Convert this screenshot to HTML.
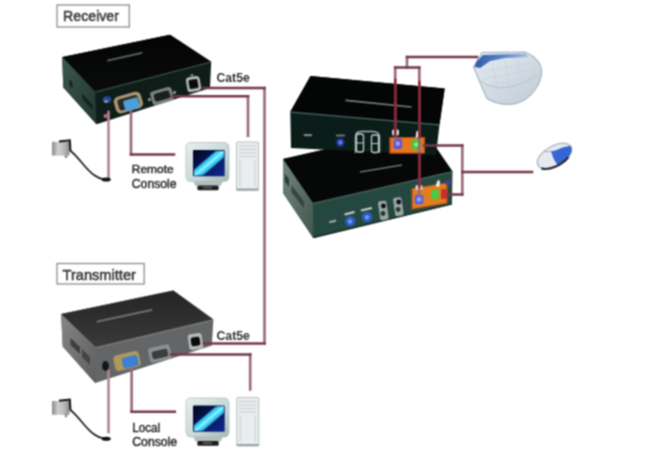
<!DOCTYPE html>
<html><head><meta charset="utf-8"><style>
html,body{margin:0;padding:0;background:#fff;}
body{width:650px;height:462px;overflow:hidden;position:relative;}
svg{position:absolute;left:0;top:0;display:block;}
text{font-family:"Liberation Sans",sans-serif;}
</style></head><body>
<svg width="650" height="462" viewBox="0 0 650 462">
<defs>
<filter id="soft" x="0" y="0" width="100%" height="100%" filterUnits="userSpaceOnUse" color-interpolation-filters="sRGB"><feConvolveMatrix order="3" kernelMatrix="1 2 1 2 4 2 1 2 1" divisor="16" edgeMode="duplicate" preserveAlpha="true"/></filter>
<linearGradient id="txTop" x1="0" y1="0" x2="0" y2="1"><stop offset="0" stop-color="#242424"/><stop offset="1" stop-color="#3a3a3a"/></linearGradient>
<linearGradient id="rxTop" x1="0" y1="0" x2="0" y2="1"><stop offset="0" stop-color="#030303"/><stop offset="1" stop-color="#0a0c0c"/></linearGradient>
<linearGradient id="kbBlue" x1="0" y1="0" x2="1" y2="0"><stop offset="0" stop-color="#2f5aa8"/><stop offset="0.55" stop-color="#5d86c8"/><stop offset="1" stop-color="#a9c2e4"/></linearGradient>
<linearGradient id="kb" x1="0" y1="0" x2="1" y2="1"><stop offset="0" stop-color="#e6ecf1"/><stop offset="1" stop-color="#bfcbd6"/></linearGradient>
<linearGradient id="pa" x1="0" y1="0" x2="1" y2="0"><stop offset="0" stop-color="#8a8a8a"/><stop offset="0.35" stop-color="#cfcfcf"/><stop offset="0.7" stop-color="#b8b8b8"/><stop offset="1" stop-color="#8c8c8c"/></linearGradient>
<linearGradient id="scr" x1="0" y1="0" x2="1" y2="1"><stop offset="0" stop-color="#020620"/><stop offset="1" stop-color="#0c2a90"/></linearGradient>
<linearGradient id="mon" x1="0" y1="0" x2="1" y2="1"><stop offset="0" stop-color="#e6efef"/><stop offset="0.6" stop-color="#c9d6d6"/><stop offset="1" stop-color="#a6b6b6"/></linearGradient>
<clipPath id="scrClip"><rect x="194" y="151" width="29.7" height="24.3"/></clipPath>
<clipPath id="mouseClip"><ellipse cx="554.5" cy="156" rx="19" ry="10"/></clipPath>
<linearGradient id="rxLeft" x1="0" y1="0" x2="1" y2="1"><stop offset="0" stop-color="#3a584c"/><stop offset="1" stop-color="#22362f"/></linearGradient>
<linearGradient id="txLeft" x1="0" y1="0" x2="1" y2="1"><stop offset="0" stop-color="#858585"/><stop offset="1" stop-color="#5e5e5e"/></linearGradient>
<linearGradient id="kvmLeft" x1="0" y1="0" x2="1" y2="1"><stop offset="0" stop-color="#72867e"/><stop offset="1" stop-color="#42564e"/></linearGradient>
</defs>
<g filter="url(#soft)">
<rect width="650" height="462" fill="#fff"/>

<!-- ===== labels ===== -->
<rect x="57" y="5" width="72.3" height="22" fill="none" stroke="#8e8e8e" stroke-width="1.3"/>
<text x="63" y="20.9" font-size="15.5" fill="#3a3a3a" stroke="#3a3a3a" stroke-width="0.55" textLength="56" lengthAdjust="spacingAndGlyphs">Receiver</text>
<rect x="57" y="263.5" width="87.2" height="20.5" fill="none" stroke="#8e8e8e" stroke-width="1.3"/>
<text x="62.5" y="280.1" font-size="15.5" fill="#3a3a3a" stroke="#3a3a3a" stroke-width="0.55" textLength="73.4" lengthAdjust="spacingAndGlyphs">Transmitter</text>

<text x="216.5" y="81.7" font-size="12.8" font-weight="bold" fill="#333" textLength="33.2" lengthAdjust="spacingAndGlyphs">Cat5e</text>
<text x="216.5" y="339.8" font-size="12.8" font-weight="bold" fill="#333" textLength="33.4" lengthAdjust="spacingAndGlyphs">Cat5e</text>
<text x="131.8" y="173.4" font-size="11.6" fill="#2a2a2a" stroke="#2a2a2a" stroke-width="0.45" textLength="41.8" lengthAdjust="spacingAndGlyphs">Remote</text>
<text x="131.8" y="187.6" font-size="12" fill="#2a2a2a" stroke="#2a2a2a" stroke-width="0.45" textLength="44.8" lengthAdjust="spacingAndGlyphs">Console</text>
<text x="132.3" y="431.8" font-size="12" fill="#2a2a2a" stroke="#2a2a2a" stroke-width="0.45" textLength="27.8" lengthAdjust="spacingAndGlyphs">Local</text>
<text x="132.3" y="445.8" font-size="12" fill="#2a2a2a" stroke="#2a2a2a" stroke-width="0.45" textLength="44.8" lengthAdjust="spacingAndGlyphs">Console</text>

<!-- ===== Receiver box ===== -->
<polygon points="62.3,57 170,34.7 211.2,61.8 210,88 96.5,124.3 63.2,87.3" fill="#0f1d19"/>
<polygon points="62.6,57 170,34.7 211.2,61.8 95,91.6" fill="url(#rxTop)"/>
<polygon points="62.3,57 95,91.6 96.5,124.3 63.2,87.3" fill="url(#rxLeft)"/>
<path d="M69.5 79 L72.5 82.5 L72.5 89 L69.5 85.5 Z M82 93.5 L93 105 L93 109 L82 97.5 Z" fill="#16241f"/>
<path d="M83 99 L92 108.5" stroke="#16241f" stroke-width="1.2"/>
<path d="M95.3,92 L211,62" stroke="#3f5a52" stroke-width="1.2" fill="none"/>
<path d="M108,60.5 L141.5,53" stroke="#555a5a" stroke-width="2.2" stroke-linecap="round" fill="none"/>
<!-- rx ports -->
<ellipse cx="107" cy="99.5" rx="4.2" ry="3.2" fill="#2a46a0"/>
<ellipse cx="106" cy="101.5" rx="2" ry="1.2" fill="#7ab8a0"/>
<g transform="translate(128.5,103) rotate(-16)">
<rect x="-14" y="-9" width="28" height="17" rx="5" fill="#a89670"/>
<rect x="-10.5" y="-6" width="21" height="11.5" rx="3" fill="#2a2a22"/>
<rect x="-5" y="-3.5" width="15" height="11" rx="2" fill="#4aa0dc"/>
</g>
<circle cx="105.5" cy="116" r="2" fill="#c07080"/>
<g transform="translate(162,96) rotate(-16)">
<rect x="-11" y="-7" width="22" height="14" rx="3" fill="#7a8282"/>
<rect x="-8" y="-4" width="16" height="8" rx="2" fill="#1a1f1f"/>
<circle cx="-13" cy="0" r="1.6" fill="#8a9090"/><circle cx="13" cy="0" r="1.6" fill="#8a9090"/>
</g>
<g transform="translate(193.5,84) rotate(-10)">
<rect x="-7" y="-7.5" width="14" height="15" rx="3.5" fill="#b0b5b5"/>
<rect x="-4.5" y="-4.5" width="9" height="9" rx="1.5" fill="#0a0a0a"/>
<rect x="-1.5" y="-10" width="3" height="2.5" fill="#808686"/>
</g>

<!-- ===== Transmitter box ===== -->
<polygon points="61.1,314.1 173.3,290.5 213.4,319.6 211.8,345.5 95.2,383 62.7,346.5" fill="#646566"/>
<polygon points="61.1,314.1 173.3,290.5 213.4,319.6 95.7,347.3" fill="url(#txTop)"/>
<polygon points="61.1,314.1 95.7,347.3 95.2,383 62.7,346.5" fill="url(#txLeft)"/>
<polygon points="70.5,338 80,347 80,354 70.5,345" fill="#3e3e3e"/>
<polygon points="82,349 90,357 90,365 82,357" fill="#444"/>
<path d="M96,347.6 L213,320" stroke="#7a7a7a" stroke-width="1.4" fill="none"/>
<path d="M97.5,321.4 L151.4,310" stroke="#6e6e6e" stroke-width="2" stroke-linecap="round" fill="none"/>
<!-- tx ports -->
<ellipse cx="105.5" cy="366" rx="3.4" ry="5" fill="#141414"/>
<g transform="translate(127,361) rotate(-13)">
<rect x="-13" y="-8" width="26" height="16" rx="4" fill="#b09a5a"/>
<rect x="-5" y="-4" width="16" height="11" rx="2" fill="#3d7fd0"/>
</g>
<g transform="translate(160,354) rotate(-13)">
<rect x="-11" y="-8" width="22" height="15" rx="3" fill="#8c9090"/>
<rect x="-8" y="-4" width="16" height="8" rx="2" fill="#3a3d3d"/>
</g>
<g transform="translate(195.5,341.5) rotate(-8)">
<rect x="-7" y="-8" width="14" height="16" rx="3" fill="#b4b8b8"/>
<rect x="-4.5" y="-4.5" width="9" height="9" rx="2" fill="#0a0a0a"/>
</g>

<!-- ===== KVM lower ===== -->
<polygon points="283,159 421.8,126.9 452.5,171.5 452,204.3 313.3,238 283,193" fill="#24483f"/>
<polygon points="283,159 421.8,126.9 452.5,171.5 312.9,203.1" fill="#060707"/>
<polygon points="283,159 312.9,203.1 313.3,238 283,193" fill="url(#kvmLeft)"/>
<polygon points="284.8,173.5 289,179 289,187 284.8,181.5" fill="#2c3c36"/>
<polygon points="291.5,185 304,201.5 304,208.5 291.5,192" fill="#33453e"/>
<path d="M313.3,237.6 L452,204" stroke="#0e1f1b" stroke-width="1.2" fill="none"/>
<path d="M313.2,203.4 L452.3,171.7" stroke="#4a625a" stroke-width="1.2" fill="none"/>
<path d="M360,172 L402,165" stroke="#6d7272" stroke-width="1.6" fill="none"/>
<!-- lower ports -->
<rect x="329" y="220.5" width="7" height="2.2" fill="#9aa0a0" transform="rotate(-13 332 221)"/>
<path d="M344.5 214.5 L354.5 212" stroke="#c8d0d0" stroke-width="2"/>
<path d="M361 210.5 L372 208" stroke="#c8d0d0" stroke-width="2"/>
<circle cx="350.2" cy="221.2" r="5.2" fill="#2d5cc0"/>
<circle cx="350" cy="221.5" r="2.2" fill="#6a9af0"/>
<circle cx="367" cy="217" r="5.3" fill="#2d5cc0"/>
<circle cx="367" cy="217.3" r="2.2" fill="#6a9af0"/>
<rect x="379" y="201" width="8.5" height="19" rx="2" fill="#9ea6a4" transform="rotate(-8 383 210)"/>
<circle cx="383.4" cy="206" r="2.4" fill="#0a0c0c"/>
<circle cx="383" cy="213.5" r="2.4" fill="#1c3a2a"/>
<rect x="394" y="197.5" width="8.5" height="18.5" rx="2" fill="#9ea6a4" transform="rotate(-8 398 206)"/>
<circle cx="398.7" cy="202" r="2.4" fill="#0a0c0c"/>
<circle cx="398.2" cy="209.5" r="2.4" fill="#1c3a2a"/>
<polygon points="411.5,188.5 447.5,182.5 447.5,203.5 411.5,209.5" fill="#c8561e"/>
<polygon points="413,189 446,183.5 446,202.5 413,208" fill="#e07f1c"/>
<rect x="414.7" y="194.4" width="8.8" height="9.8" rx="2.5" fill="#5a62d8"/>
<circle cx="419" cy="199.5" r="2.3" fill="#8fa0ff"/>
<rect x="431.3" y="189.5" width="7.8" height="9.7" rx="2.5" fill="#4acb46"/>
<rect x="441" y="189" width="6" height="10" rx="1" fill="#c8302c"/>
<rect x="415.5" y="185" width="7" height="5" rx="1.5" fill="#e8c8d0"/>
<path d="M435.5 186.5 L437.5 180.5 L440 180.5 L439.5 186.5 Z" fill="#f0f0e8"/>
<rect x="445.5" y="180" width="5" height="5" rx="1.5" fill="#4a3aa0"/>
<!-- ===== KVM upper ===== -->
<polygon points="310.5,76 444.7,88.5 439.5,124.5 436,155 291,148 290.3,111.8" fill="#0b1d19"/>
<polygon points="310.5,76 444.7,88.5 439.5,124.5 290.3,111.8" fill="#040505"/>
<path d="M290.5,112.2 L439.5,124.8" stroke="#4a6862" stroke-width="1.2" fill="none"/>
<path d="M346,100.4 L411,107" stroke="#7a7e7e" stroke-width="1.6" stroke-linecap="round" fill="none"/>
<!-- upper ports -->
<rect x="303.8" y="134" width="8" height="2.2" fill="#7e8a88"/>
<rect x="336" y="134.5" width="9" height="2" fill="#6c7878"/>
<circle cx="340.3" cy="142.5" r="4.5" fill="#1c2e86"/>
<circle cx="340.3" cy="142.5" r="2.4" fill="#5a78e0"/>
<path d="M355.5 153 V137 Q355.5 131.5 361 131.5 L373 131.5 Q379.5 131.5 379.5 137.5 V153" fill="none" stroke="#a8b0b0" stroke-width="1.4"/>
<rect x="356.5" y="134" width="7" height="18" rx="2" fill="none" stroke="#c4cccc" stroke-width="1.3"/>
<rect x="371.5" y="135" width="7" height="17.5" rx="2" fill="none" stroke="#c4cccc" stroke-width="1.3"/>
<path d="M357 143 H363 M372 143.5 H378" stroke="#c4cccc" stroke-width="1.2"/>
<rect x="389.3" y="137.1" width="35.7" height="16.5" fill="#c84e22"/>
<rect x="391" y="138" width="32.5" height="14.6" fill="#e27a1a"/>
<rect x="393.6" y="138.6" width="8.4" height="10.3" rx="2.5" fill="#6252d8"/>
<circle cx="397.8" cy="143.6" r="2.3" fill="#9a9cff"/>
<rect x="412" y="139.3" width="8.7" height="10.7" rx="2.5" fill="#46c646"/>
<circle cx="416.3" cy="144.6" r="2" fill="#8cf08a"/>
<rect x="392" y="129.5" width="7" height="6" rx="1.5" fill="#d8dcd8"/>
<path d="M415.5 137.5 L416.5 131 L419 131 L420 137.5 Z" fill="#ecece4"/>

<!-- ===== red lines ===== -->
<g fill="none" stroke-linecap="square">
<path d="M264.5 88 V343.5 M248 96.3 V136 M131 112 V154.5 M250.2 354.6 V389.5 M131.6 369 V411.7 M407 57 V67.4 M395.2 67.4 V140 M419.3 67.4 V196 M462.3 145.5 V194.5" stroke="#9a6874" stroke-width="2.6"/>
<path d="M203 88 H264.5 M204 343.5 H264.5 M172 96.3 H248 M131 154.5 H174 M171 354.6 H250.2 M131.6 411.7 H174.8 M407 57 H477 M395.2 67.4 H419.3 M462.3 172 H532 M424 145.5 H462.3 M448 194.5 H462.3" stroke="#733846" stroke-width="2.5"/>
<path d="M108.5 112 V178 M108.5 371 V432" stroke="#ae8592" stroke-width="2.6"/>
<path d="M395.2 80 V136 M419.3 82 V137 M419.3 154 V186" stroke="#8c2038" stroke-width="2.4"/>
</g>

<!-- ===== power adapters ===== -->
<g id="paA">
<path d="M70 150.5 C78 156, 86 170, 94 175 C98 178 101 179 104 179.3" fill="none" stroke="#1c1c1c" stroke-width="1.7"/>
<ellipse cx="106.2" cy="179.6" rx="4.6" ry="2" fill="#111"/>
<rect x="52" y="141.8" width="17.5" height="13.8" fill="url(#pa)"/>
<path d="M59 141.5 L69.8 140.3 L70.4 151" fill="none" stroke="#111" stroke-width="2"/>
<rect x="64.8" y="155" width="2.4" height="3" fill="#8a8a8a"/>
</g>
<g transform="translate(0,259.2)">
<path d="M70 150.5 C78 156, 86 170, 94 175 C98 178 101 179 104 179.3" fill="none" stroke="#1c1c1c" stroke-width="1.7"/>
<ellipse cx="106.2" cy="179.6" rx="4.6" ry="2" fill="#111"/>
<rect x="52" y="141.8" width="17.5" height="13.8" fill="url(#pa)"/>
<path d="M59 141.5 L69.8 140.3 L70.4 151" fill="none" stroke="#111" stroke-width="2"/>
<rect x="64.8" y="155" width="2.4" height="3" fill="#8a8a8a"/>
</g>

<!-- ===== monitors ===== -->
<g id="monA">
<rect x="186" y="142.5" width="43" height="39" rx="4.5" fill="url(#mon)" stroke="#b4c2c2" stroke-width="0.8"/>
<rect x="193" y="150" width="31.7" height="26.3" rx="1" fill="url(#scr)"/>
<g clip-path="url(#scrClip)"><path d="M192 178 L226 149" stroke="#2a9cd0" stroke-width="10.5"/>
<path d="M192 178 L226 149" stroke="#3fd2f8" stroke-width="7.5"/>
<path d="M193 177 L225 150" stroke="#8aeeff" stroke-width="2.5"/></g>
<polygon points="193,181 223,181 220.5,186 195.5,186" fill="#b3bfbf"/>
<rect x="197.3" y="185.6" width="21.4" height="4.6" rx="1.5" fill="#1e1e1e"/>
<rect x="203" y="186.5" width="9" height="2" fill="#555"/>
</g>
<g transform="translate(0,255.5)">
<rect x="186" y="142.5" width="43" height="39" rx="4.5" fill="url(#mon)" stroke="#b4c2c2" stroke-width="0.8"/>
<rect x="193" y="150" width="31.7" height="26.3" rx="1" fill="url(#scr)"/>
<g clip-path="url(#scrClip)"><path d="M192 178 L226 149" stroke="#2a9cd0" stroke-width="10.5"/>
<path d="M192 178 L226 149" stroke="#3fd2f8" stroke-width="7.5"/>
<path d="M193 177 L225 150" stroke="#8aeeff" stroke-width="2.5"/></g>
<polygon points="193,181 223,181 220.5,186 195.5,186" fill="#b3bfbf"/>
<rect x="197.3" y="185.6" width="21.4" height="4.6" rx="1.5" fill="#1e1e1e"/>
<rect x="203" y="186.5" width="9" height="2" fill="#555"/>
</g>
<!-- ===== towers ===== -->
<g id="twA">
<rect x="236.5" y="142" width="22" height="48.5" rx="1" fill="#e9eded" stroke="#b9c2c2" stroke-width="1"/>
<g stroke="#c3cbcb" stroke-width="0.9">
<path d="M239 146 H256 M239 149.5 H256 M239 153 H256 M239 156.5 H256"/>
<path d="M240 160 V186 M255 160 V186"/>
</g>
<rect x="236.5" y="188.5" width="22" height="2" fill="#9aa4a4"/>
</g>
<g transform="translate(0.3,255.5)">
<rect x="236.5" y="142" width="22" height="48.5" rx="1" fill="#e9eded" stroke="#b9c2c2" stroke-width="1"/>
<g stroke="#c3cbcb" stroke-width="0.9">
<path d="M239 146 H256 M239 149.5 H256 M239 153 H256 M239 156.5 H256"/>
<path d="M240 160 V186 M255 160 V186"/>
</g>
<rect x="236.5" y="188.5" width="22" height="2" fill="#9aa4a4"/>
</g>

<!-- ===== keyboard ===== -->
<path d="M482 52.5 L525 52 C536 56.5 543 65 541.5 75 C538.5 91 525 103.5 510 104.5 C499 104.5 491 101.5 486.5 98 L473.5 67 Z" fill="url(#kb)" stroke="#a3b0bd" stroke-width="1.1"/>
<path d="M474.5 67 L476.5 61.5 L483 55 L526 53.5 L528.5 57 L505 58 L490 61 L480 68 Z" fill="url(#kbBlue)"/>
<g stroke="#c9d3dc" stroke-width="0.8" fill="none">
<path d="M480 72 L532 62.5 M483 79 L536 69 M486 86 L537 76"/>
<path d="M492 63 L498 92 M505 60.5 L510 93 M518 59 L522 91"/>
</g>
<path d="M479 80 Q502 98 539 74" stroke="#b5c2cd" stroke-width="1" fill="none"/>
<!-- ===== mouse ===== -->
<g transform="rotate(-30 554.5 156)">
<ellipse cx="554.5" cy="156" rx="19" ry="10" fill="#e4eaf0" stroke="#9aa6b2" stroke-width="1"/>
<g clip-path="url(#mouseClip)">
<path d="M554 150 C552 157 552 162 553 168 L580 168 L580 159 Q570 152 560 152 Q556 151.5 554 150 Z" fill="#3766d4"/>
<path d="M548 147 Q552 150 554 150" stroke="#a0aab6" stroke-width="0.8" fill="none"/>
</g>
<path d="M537 160 A19 10 0 0 0 566 164" stroke="#23282e" stroke-width="2.2" fill="none"/>
</g>
</g>
</svg>
</body></html>
